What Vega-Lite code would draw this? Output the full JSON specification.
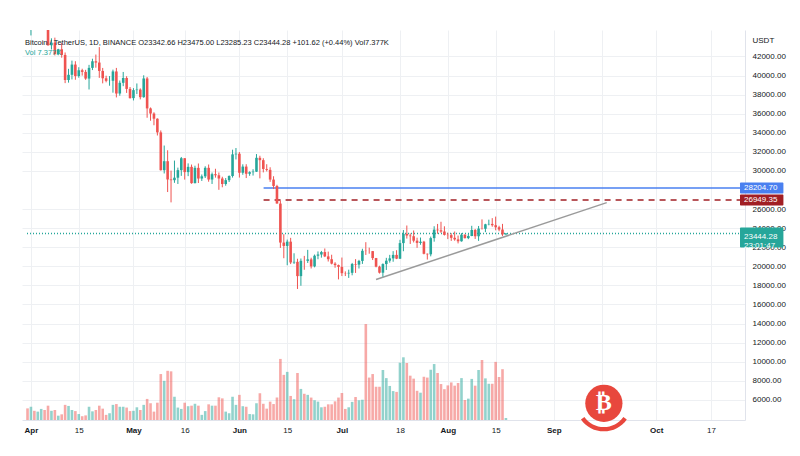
{
  "$schema": "https://vega.github.io/schema/vega-lite/v6.json",
  "width": 723,
  "height": 390,
  "autosize": {"type": "none"},
  "padding": {"left": 22, "top": 30, "right": 55, "bottom": 36},
  "background": "white",
  "title": {
    "text": "Bitcoin / TetherUS, 1D, BINANCE  O23342.66  H23475.00  L23285.23  C23444.28  +101.62 (+0.44%)  Vol7.377K",
    "subtitle": "Vol  7.377K",
    "anchor": "start", "frame": "group", "orient": "top", "offset": -27, "dx": 3,
    "fontSize": 7.5, "fontWeight": "normal", "color": "#131722",
    "subtitleFontSize": 7.5, "subtitleColor": "#26a69a", "subtitlePadding": 3,
    "font": "Liberation Sans", "subtitleFont": "Liberation Sans"
  },
  "config": {
    "font": "Liberation Sans",
    "view": {"stroke": null}
  },
  "datasets": {
    "ohlc": [
      {"d":"2022-03-31","o":47067,"h":47600,"l":45200,"c":45510,"v":43},
      {"d":"2022-04-01","o":45510,"h":46720,"l":44200,"c":46283,"v":49},
      {"d":"2022-04-02","o":46283,"h":47213,"l":45620,"c":45811,"v":34},
      {"d":"2022-04-03","o":45811,"h":47444,"l":45530,"c":46407,"v":31},
      {"d":"2022-04-04","o":46407,"h":46890,"l":45118,"c":46580,"v":41},
      {"d":"2022-04-05","o":46580,"h":47200,"l":45353,"c":45497,"v":37},
      {"d":"2022-04-06","o":45497,"h":45507,"l":43121,"c":43170,"v":53},
      {"d":"2022-04-07","o":43170,"h":43900,"l":42727,"c":43444,"v":34},
      {"d":"2022-04-08","o":43444,"h":43970,"l":42107,"c":42252,"v":37},
      {"d":"2022-04-09","o":42252,"h":42800,"l":42125,"c":42753,"v":16},
      {"d":"2022-04-10","o":42753,"h":43410,"l":41868,"c":42158,"v":21},
      {"d":"2022-04-11","o":42158,"h":42414,"l":39200,"c":39530,"v":56},
      {"d":"2022-04-12","o":39530,"h":40700,"l":39254,"c":40074,"v":52},
      {"d":"2022-04-13","o":40074,"h":41561,"l":39588,"c":41147,"v":37},
      {"d":"2022-04-14","o":41147,"h":41500,"l":39551,"c":39942,"v":33},
      {"d":"2022-04-15","o":39942,"h":40870,"l":39766,"c":40552,"v":22},
      {"d":"2022-04-16","o":40552,"h":40709,"l":39991,"c":40378,"v":14},
      {"d":"2022-04-17","o":40378,"h":40595,"l":39546,"c":39679,"v":17},
      {"d":"2022-04-18","o":39679,"h":41116,"l":38536,"c":40801,"v":49},
      {"d":"2022-04-19","o":40801,"h":41760,"l":40571,"c":41493,"v":32},
      {"d":"2022-04-20","o":41493,"h":42199,"l":40820,"c":41358,"v":37},
      {"d":"2022-04-21","o":41358,"h":42976,"l":39751,"c":40480,"v":53},
      {"d":"2022-04-22","o":40480,"h":40795,"l":39177,"c":39709,"v":42},
      {"d":"2022-04-23","o":39709,"h":39980,"l":39285,"c":39441,"v":19},
      {"d":"2022-04-24","o":39441,"h":39940,"l":38929,"c":39450,"v":25},
      {"d":"2022-04-25","o":39450,"h":40617,"l":38200,"c":40426,"v":56},
      {"d":"2022-04-26","o":40426,"h":40797,"l":37702,"c":38112,"v":59},
      {"d":"2022-04-27","o":38112,"h":39474,"l":37881,"c":39235,"v":49},
      {"d":"2022-04-28","o":39235,"h":40372,"l":38881,"c":39742,"v":49},
      {"d":"2022-04-29","o":39742,"h":39925,"l":38175,"c":38596,"v":46},
      {"d":"2022-04-30","o":38596,"h":38795,"l":37578,"c":37630,"v":33},
      {"d":"2022-05-01","o":37630,"h":38675,"l":37386,"c":38468,"v":34},
      {"d":"2022-05-02","o":38468,"h":39167,"l":38052,"c":38525,"v":47},
      {"d":"2022-05-03","o":38525,"h":38651,"l":37500,"c":37729,"v":37},
      {"d":"2022-05-04","o":37729,"h":40023,"l":37670,"c":39690,"v":56},
      {"d":"2022-05-05","o":39690,"h":39845,"l":35571,"c":36552,"v":78},
      {"d":"2022-05-06","o":36552,"h":36650,"l":35258,"c":36013,"v":62},
      {"d":"2022-05-07","o":36013,"h":36146,"l":34785,"c":35472,"v":31},
      {"d":"2022-05-08","o":35472,"h":35510,"l":33713,"c":34038,"v":64},
      {"d":"2022-05-09","o":34038,"h":34243,"l":30033,"c":30076,"v":170},
      {"d":"2022-05-10","o":30076,"h":32659,"l":29730,"c":31017,"v":145},
      {"d":"2022-05-11","o":31017,"h":32162,"l":27785,"c":29103,"v":182},
      {"d":"2022-05-12","o":29103,"h":30033,"l":26700,"c":29029,"v":180},
      {"d":"2022-05-13","o":29029,"h":31083,"l":28751,"c":29287,"v":86},
      {"d":"2022-05-14","o":29287,"h":30343,"l":28630,"c":30081,"v":46},
      {"d":"2022-05-15","o":30081,"h":31460,"l":29480,"c":31329,"v":41},
      {"d":"2022-05-16","o":31329,"h":31330,"l":29088,"c":29874,"v":64},
      {"d":"2022-05-17","o":29874,"h":30788,"l":29450,"c":30425,"v":51},
      {"d":"2022-05-18","o":30425,"h":30668,"l":28654,"c":28715,"v":53},
      {"d":"2022-05-19","o":28715,"h":30545,"l":28693,"c":30319,"v":60},
      {"d":"2022-05-20","o":30319,"h":30777,"l":28730,"c":29201,"v":53},
      {"d":"2022-05-21","o":29201,"h":29625,"l":28947,"c":29432,"v":19},
      {"d":"2022-05-22","o":29432,"h":30487,"l":29255,"c":30323,"v":33},
      {"d":"2022-05-23","o":30323,"h":30670,"l":28866,"c":29098,"v":58},
      {"d":"2022-05-24","o":29098,"h":29830,"l":28630,"c":29655,"v":53},
      {"d":"2022-05-25","o":29655,"h":30223,"l":29294,"c":29542,"v":53},
      {"d":"2022-05-26","o":29542,"h":29834,"l":28019,"c":29201,"v":84},
      {"d":"2022-05-27","o":29201,"h":29388,"l":28282,"c":28629,"v":80},
      {"d":"2022-05-28","o":28629,"h":29250,"l":28450,"c":29031,"v":31},
      {"d":"2022-05-29","o":29031,"h":29531,"l":28839,"c":29468,"v":25},
      {"d":"2022-05-30","o":29468,"h":32222,"l":29299,"c":31734,"v":86},
      {"d":"2022-05-31","o":31734,"h":32399,"l":31200,"c":31801,"v":56},
      {"d":"2022-06-01","o":31801,"h":31982,"l":29301,"c":29805,"v":93},
      {"d":"2022-06-02","o":29805,"h":30690,"l":29594,"c":30452,"v":51},
      {"d":"2022-06-03","o":30452,"h":30700,"l":29250,"c":29700,"v":49},
      {"d":"2022-06-04","o":29700,"h":29955,"l":29485,"c":29865,"v":22},
      {"d":"2022-06-05","o":29865,"h":30178,"l":29512,"c":29919,"v":21},
      {"d":"2022-06-06","o":29919,"h":31765,"l":29890,"c":31373,"v":62},
      {"d":"2022-06-07","o":31373,"h":31589,"l":29218,"c":31125,"v":99},
      {"d":"2022-06-08","o":31125,"h":31327,"l":29843,"c":30204,"v":60},
      {"d":"2022-06-09","o":30204,"h":30700,"l":29944,"c":30109,"v":42},
      {"d":"2022-06-10","o":30109,"h":30382,"l":28850,"c":29091,"v":68},
      {"d":"2022-06-11","o":29091,"h":29440,"l":28099,"c":28424,"v":59},
      {"d":"2022-06-12","o":28424,"h":28544,"l":26560,"c":26574,"v":83},
      {"d":"2022-06-13","o":26574,"h":26895,"l":21925,"c":22487,"v":226},
      {"d":"2022-06-14","o":22487,"h":23363,"l":20846,"c":22136,"v":167},
      {"d":"2022-06-15","o":22136,"h":22800,"l":20111,"c":22583,"v":178},
      {"d":"2022-06-16","o":22583,"h":22983,"l":20232,"c":20401,"v":89},
      {"d":"2022-06-17","o":20401,"h":21365,"l":20246,"c":20468,"v":77},
      {"d":"2022-06-18","o":20468,"h":20792,"l":17622,"c":18970,"v":174},
      {"d":"2022-06-19","o":18970,"h":20815,"l":17960,"c":20574,"v":115},
      {"d":"2022-06-20","o":20574,"h":21090,"l":19637,"c":20573,"v":97},
      {"d":"2022-06-21","o":20573,"h":21723,"l":20348,"c":20723,"v":93},
      {"d":"2022-06-22","o":20723,"h":20900,"l":19770,"c":19987,"v":83},
      {"d":"2022-06-23","o":19987,"h":21233,"l":19890,"c":21110,"v":73},
      {"d":"2022-06-24","o":21110,"h":21558,"l":20740,"c":21237,"v":68},
      {"d":"2022-06-25","o":21237,"h":21614,"l":20906,"c":21491,"v":47},
      {"d":"2022-06-26","o":21491,"h":21868,"l":20960,"c":21038,"v":49},
      {"d":"2022-06-27","o":21038,"h":21540,"l":20500,"c":20742,"v":58},
      {"d":"2022-06-28","o":20742,"h":21212,"l":20202,"c":20281,"v":58},
      {"d":"2022-06-29","o":20281,"h":20432,"l":19849,"c":20123,"v":69},
      {"d":"2022-06-30","o":20123,"h":20179,"l":18626,"c":19942,"v":83},
      {"d":"2022-07-01","o":19942,"h":20918,"l":18975,"c":19279,"v":100},
      {"d":"2022-07-02","o":19279,"h":19467,"l":18977,"c":19252,"v":41},
      {"d":"2022-07-03","o":19252,"h":19647,"l":18782,"c":19315,"v":47},
      {"d":"2022-07-04","o":19315,"h":20354,"l":19055,"c":20236,"v":67},
      {"d":"2022-07-05","o":20236,"h":20750,"l":19305,"c":20175,"v":85},
      {"d":"2022-07-06","o":20175,"h":20675,"l":19770,"c":20564,"v":73},
      {"d":"2022-07-07","o":20564,"h":21838,"l":20249,"c":21624,"v":75},
      {"d":"2022-07-08","o":21624,"h":22527,"l":21190,"c":21594,"v":355},
      {"d":"2022-07-09","o":21594,"h":21954,"l":21319,"c":21591,"v":157},
      {"d":"2022-07-10","o":21591,"h":21605,"l":20655,"c":20862,"v":170},
      {"d":"2022-07-11","o":20862,"h":20878,"l":19890,"c":19963,"v":123},
      {"d":"2022-07-12","o":19963,"h":20059,"l":19240,"c":19328,"v":123},
      {"d":"2022-07-13","o":19328,"h":20308,"l":18910,"c":20234,"v":185},
      {"d":"2022-07-14","o":20234,"h":20887,"l":19616,"c":20588,"v":155},
      {"d":"2022-07-15","o":20588,"h":21200,"l":20382,"c":20830,"v":126},
      {"d":"2022-07-16","o":20830,"h":21588,"l":20478,"c":21195,"v":107},
      {"d":"2022-07-17","o":21195,"h":21684,"l":20752,"c":20798,"v":104},
      {"d":"2022-07-18","o":20798,"h":22777,"l":20762,"c":22432,"v":212},
      {"d":"2022-07-19","o":22432,"h":23800,"l":21580,"c":23396,"v":232},
      {"d":"2022-07-20","o":23396,"h":24276,"l":22906,"c":23223,"v":211},
      {"d":"2022-07-21","o":23223,"h":23442,"l":22341,"c":23152,"v":164},
      {"d":"2022-07-22","o":23152,"h":23756,"l":22500,"c":22684,"v":153},
      {"d":"2022-07-23","o":22684,"h":22998,"l":21934,"c":22451,"v":108},
      {"d":"2022-07-24","o":22451,"h":23014,"l":22258,"c":22579,"v":101},
      {"d":"2022-07-25","o":22579,"h":22666,"l":21250,"c":21310,"v":160},
      {"d":"2022-07-26","o":21310,"h":21347,"l":20706,"c":21254,"v":157},
      {"d":"2022-07-27","o":21254,"h":23112,"l":21042,"c":22952,"v":186},
      {"d":"2022-07-28","o":22952,"h":24199,"l":22582,"c":23842,"v":207},
      {"d":"2022-07-29","o":23842,"h":24442,"l":23414,"c":23773,"v":174},
      {"d":"2022-07-30","o":23773,"h":24668,"l":23502,"c":23643,"v":133},
      {"d":"2022-07-31","o":23643,"h":24194,"l":23227,"c":23293,"v":114},
      {"d":"2022-08-01","o":23296,"h":23509,"l":22850,"c":23268,"v":128},
      {"d":"2022-08-02","o":23268,"h":23466,"l":22664,"c":22988,"v":139},
      {"d":"2022-08-03","o":22988,"h":23647,"l":22681,"c":22818,"v":127},
      {"d":"2022-08-04","o":22818,"h":23223,"l":22400,"c":22622,"v":137},
      {"d":"2022-08-05","o":22622,"h":23472,"l":22586,"c":23312,"v":155},
      {"d":"2022-08-06","o":23312,"h":23354,"l":22909,"c":22954,"v":74},
      {"d":"2022-08-07","o":22954,"h":23400,"l":22844,"c":23175,"v":79},
      {"d":"2022-08-08","o":23175,"h":24245,"l":23154,"c":23810,"v":152},
      {"d":"2022-08-09","o":23810,"h":23920,"l":22865,"c":23149,"v":127},
      {"d":"2022-08-10","o":23149,"h":24226,"l":22664,"c":23954,"v":185},
      {"d":"2022-08-11","o":23954,"h":24918,"l":23852,"c":23935,"v":222},
      {"d":"2022-08-12","o":23935,"h":24456,"l":23580,"c":24403,"v":154},
      {"d":"2022-08-13","o":24403,"h":24888,"l":24296,"c":24442,"v":134},
      {"d":"2022-08-14","o":24442,"h":25047,"l":24144,"c":24305,"v":134},
      {"d":"2022-08-15","o":24305,"h":25211,"l":23773,"c":24094,"v":215},
      {"d":"2022-08-16","o":24094,"h":24247,"l":23671,"c":23854,"v":159},
      {"d":"2022-08-17","o":23854,"h":24446,"l":23180,"c":23342,"v":188},
      {"d":"2022-08-18","o":23342.66,"h":23475,"l":23285.23,"c":23444.28,"v":7.377}
    ],
    "levels": [
      {"name":"alert","price":28204.70,"start":"2022-06-08T02:00:00Z"},
      {"name":"target","price":26949.35,"start":"2022-06-08T02:00:00Z"},
      {"name":"last","price":23444.28,"start":"2022-03-30T20:18:00Z"}
    ],
    "trend": [
      {"start":"2022-07-11T00:00:00Z","p1":18610,"end":"2022-09-16T12:00:00Z","p2":26678}
    ],
    "tags": [
      {"name":"alert","price":28204.70,"label":"28204.70"},
      {"name":"target","price":26949.35,"label":"26949.35"},
      {"name":"last","price":23444.28,"label":"23444.28\n23:01:47"}
    ],
    "logo": [{"mark": "bitcoin"}]
  },
  "layer": [
    {
      "data": {"name": "ohlc"},
      "mark": {"type": "bar", "size": 2.6, "opacity": 0.5},
      "encoding": {
        "x": {
          "field": "d", "type": "temporal",
          "scale": {"type": "utc", "domain": [{"year":2022,"month":3,"date":30,"hours":20,"minutes":18,"utc":true},{"year":2022,"month":10,"date":25,"hours":12,"minutes":6,"utc":true}]},
          "axis": {
            "title": null,
            "values": [
              {"year":2022,"month":4,"date":1,"utc":true},{"year":2022,"month":4,"date":15,"utc":true},
              {"year":2022,"month":5,"date":1,"utc":true},{"year":2022,"month":5,"date":16,"utc":true},
              {"year":2022,"month":6,"date":1,"utc":true},{"year":2022,"month":6,"date":15,"utc":true},
              {"year":2022,"month":7,"date":1,"utc":true},{"year":2022,"month":7,"date":18,"utc":true},
              {"year":2022,"month":8,"date":1,"utc":true},{"year":2022,"month":8,"date":15,"utc":true},
              {"year":2022,"month":9,"date":1,"utc":true},{"year":2022,"month":9,"date":15,"utc":true},
              {"year":2022,"month":10,"date":1,"utc":true},{"year":2022,"month":10,"date":17,"utc":true}
            ],
            "tickCount": 40,
            "labelExpr": "utcdate(datum.value) == 1 ? utcFormat(datum.value, '%b') : (utcmonth(datum.value) == 8 ? '' : utcFormat(datum.value, '%-d'))",
            "labelFontWeight": {"condition": {"test": "utcdate(datum.value) == 1", "value": "bold"}, "value": "normal"},
            "labelFontSize": 8, "labelColor": "#131722", "labelPadding": 6, "labelFlush": false, "labelOverlap": false,
            "ticks": false, "grid": true, "gridColor": "#eef0f3",
            "domain": true, "domainColor": "#e0e3eb", "zindex": 0
          }
        },
        "y": {"field": "v", "type": "quantitative", "scale": {"domain": [0, 1443], "nice": false, "zero": true}, "axis": null},
        "color": {"condition": {"test": "datum.c >= datum.o", "value": "#26a69a"}, "value": "#ef5350"}
      }
    },
    {
      "layer": [
        {
          "data": {"name": "levels"},
          "mark": {"type": "rule"},
          "encoding": {
            "x": {"field": "start", "type": "temporal", "scale": {"type": "utc", "domain": [{"year":2022,"month":3,"date":30,"hours":20,"minutes":18,"utc":true},{"year":2022,"month":10,"date":25,"hours":12,"minutes":6,"utc":true}]}},
            "x2": {"datum": {"year":2022,"month":10,"date":25,"hours":12,"minutes":6,"utc":true}},
            "y": {
              "field": "price", "type": "quantitative",
              "scale": {"domain": [4411, 44247], "nice": false, "zero": false, "clamp": true},
              "axis": {
                "orient": "right", "title": "USDT", "titleAngle": 0, "titleAlign": "left", "titleBaseline": "middle",
                "titleX": 7, "titleY": 10, "titleFontSize": 8, "titleFontWeight": "normal", "titleColor": "#131722",
                "values": [6000,8000,10000,12000,14000,16000,18000,20000,22000,24000,26000,30000,32000,34000,36000,38000,40000,42000],
                "tickCount": 40,
                "format": ".2f", "labelFontSize": 8, "labelColor": "#131722", "labelPadding": 7, "labelOverlap": false,
                "ticks": false, "grid": true, "gridColor": "#eef0f3",
                "domain": true, "domainColor": "#e0e3eb", "zindex": 0
              }
            },
            "color": {"field": "name", "type": "nominal", "scale": {"domain": ["alert","target","last"], "range": ["#4a80f0","#a11f24","#26a69a"]}, "legend": null},
            "strokeDash": {"field": "name", "type": "nominal", "scale": {"domain": ["alert","target","last"], "range": [[1,0],[6,5],[1,2]]}, "legend": null},
            "strokeWidth": {"field": "name", "type": "nominal", "scale": {"domain": ["alert","target","last"], "range": [1.5,1.5,1]}, "legend": null}
          }
        },
        {
          "data": {"name": "trend"},
          "mark": {"type": "rule", "color": "#9b9b9b", "strokeWidth": 1.5},
          "encoding": {
            "x": {"field": "start", "type": "temporal", "scale": {"type": "utc", "domain": [{"year":2022,"month":3,"date":30,"hours":20,"minutes":18,"utc":true},{"year":2022,"month":10,"date":25,"hours":12,"minutes":6,"utc":true}]}},
            "x2": {"field": "end"},
            "y": {"field": "p1", "type": "quantitative", "scale": {"domain": [4411, 44247], "nice": false, "zero": false, "clamp": true}},
            "y2": {"field": "p2"}
          }
        },
        {
          "data": {"name": "ohlc"},
          "mark": {"type": "rule", "strokeWidth": 1},
          "encoding": {
            "x": {"field": "d", "type": "temporal", "scale": {"type": "utc", "domain": [{"year":2022,"month":3,"date":30,"hours":20,"minutes":18,"utc":true},{"year":2022,"month":10,"date":25,"hours":12,"minutes":6,"utc":true}]}},
            "y": {"field": "l", "type": "quantitative", "scale": {"domain": [4411, 44247], "nice": false, "zero": false, "clamp": true}},
            "y2": {"field": "h"},
            "color": {"condition": {"test": "datum.c >= datum.o", "value": "#26a69a"}, "value": "#ef5350"},
            "opacity": {"condition": {"test": "datum.l > 44247", "value": 0}, "value": 1}
          }
        },
        {
          "data": {"name": "ohlc"},
          "mark": {"type": "bar", "size": 2.6, "minBandSize": 1},
          "encoding": {
            "x": {"field": "d", "type": "temporal", "scale": {"type": "utc", "domain": [{"year":2022,"month":3,"date":30,"hours":20,"minutes":18,"utc":true},{"year":2022,"month":10,"date":25,"hours":12,"minutes":6,"utc":true}]}},
            "y": {"field": "o", "type": "quantitative", "scale": {"domain": [4411, 44247], "nice": false, "zero": false, "clamp": true}},
            "y2": {"field": "c"},
            "color": {"condition": {"test": "datum.c >= datum.o", "value": "#26a69a"}, "value": "#ef5350"},
            "opacity": {"condition": {"test": "datum.l > 44247 || (datum.o > 44247 && datum.c > 44247)", "value": 0}, "value": 1}
          }
        },
        {
          "data": {"name": "tags"},
          "transform": [{"filter": "datum.name != 'last'"}],
          "mark": {"type": "bar", "orient": "horizontal", "size": 11, "cornerRadius": 1},
          "encoding": {
            "x": {"datum": {"year":2022,"month":10,"date":25,"hours":12,"minutes":6,"utc":true}, "type": "temporal", "scale": {"type": "utc", "domain": [{"year":2022,"month":3,"date":30,"hours":20,"minutes":18,"utc":true},{"year":2022,"month":10,"date":25,"hours":12,"minutes":6,"utc":true}]}},
            "x2": {"datum": {"year":2022,"month":11,"date":7,"hours":5,"utc":true}},
            "y": {"field": "price", "type": "quantitative", "scale": {"domain": [4411, 44247], "nice": false, "zero": false, "clamp": true}},
            "color": {"field": "name", "type": "nominal", "scale": {"domain": ["alert","target","last"], "range": ["#4a80f0","#a11f24","#26a69a"]}, "legend": null}
          }
        },
        {
          "data": {"name": "tags"},
          "transform": [{"filter": "datum.name == 'last'"}],
          "mark": {"type": "bar", "orient": "horizontal", "size": 20, "cornerRadius": 1, "yOffset": 4},
          "encoding": {
            "x": {"datum": {"year":2022,"month":10,"date":25,"hours":12,"minutes":6,"utc":true}, "type": "temporal", "scale": {"type": "utc", "domain": [{"year":2022,"month":3,"date":30,"hours":20,"minutes":18,"utc":true},{"year":2022,"month":10,"date":25,"hours":12,"minutes":6,"utc":true}]}},
            "x2": {"datum": {"year":2022,"month":11,"date":7,"hours":5,"utc":true}},
            "y": {"field": "price", "type": "quantitative", "scale": {"domain": [4411, 44247], "nice": false, "zero": false, "clamp": true}},
            "color": {"field": "name", "type": "nominal", "scale": {"domain": ["alert","target","last"], "range": ["#4a80f0","#a11f24","#26a69a"]}, "legend": null}
          }
        },
        {
          "data": {"name": "tags"},
          "transform": [{"filter": "datum.name != 'last'"}],
          "mark": {"type": "text", "align": "left", "baseline": "middle", "dx": 4, "fontSize": 8, "color": "white"},
          "encoding": {
            "x": {"datum": {"year":2022,"month":10,"date":25,"hours":12,"minutes":6,"utc":true}, "type": "temporal", "scale": {"type": "utc", "domain": [{"year":2022,"month":3,"date":30,"hours":20,"minutes":18,"utc":true},{"year":2022,"month":10,"date":25,"hours":12,"minutes":6,"utc":true}]}},
            "y": {"field": "price", "type": "quantitative", "scale": {"domain": [4411, 44247], "nice": false, "zero": false, "clamp": true}},
            "text": {"field": "label"}
          }
        },
        {
          "data": {"name": "tags"},
          "transform": [{"filter": "datum.name == 'last'"}],
          "mark": {"type": "text", "align": "left", "baseline": "middle", "dx": 4, "dy": 4, "fontSize": 8, "color": "white", "lineBreak": "\n", "lineHeight": 9},
          "encoding": {
            "x": {"datum": {"year":2022,"month":10,"date":25,"hours":12,"minutes":6,"utc":true}, "type": "temporal", "scale": {"type": "utc", "domain": [{"year":2022,"month":3,"date":30,"hours":20,"minutes":18,"utc":true},{"year":2022,"month":10,"date":25,"hours":12,"minutes":6,"utc":true}]}},
            "y": {"field": "price", "type": "quantitative", "scale": {"domain": [4411, 44247], "nice": false, "zero": false, "clamp": true}},
            "text": {"field": "label"}
          }
        },
        {
          "data": {"name": "logo"},
          "mark": {"type": "point", "filled": true, "shape": "M -0.819 0.574 A 1 1 0 0 0 0.819 0.574 L 0.696 0.488 A 0.85 0.85 0 0 1 -0.696 0.488 Z", "size": 3136, "color": "#e8473d", "opacity": 1},
          "encoding": {
            "x": {"datum": {"year":2022,"month":9,"date":15,"hours":16,"utc":true}, "type": "temporal", "scale": {"type": "utc", "domain": [{"year":2022,"month":3,"date":30,"hours":20,"minutes":18,"utc":true},{"year":2022,"month":10,"date":25,"hours":12,"minutes":6,"utc":true}]}},
            "y": {"datum": 5636, "type": "quantitative", "scale": {"domain": [4411, 44247], "nice": false, "zero": false, "clamp": true}}
          }
        },
        {
          "data": {"name": "logo"},
          "mark": {"type": "point", "filled": true, "shape": "circle", "size": 1385, "color": "#e8473d", "opacity": 1},
          "encoding": {
            "x": {"datum": {"year":2022,"month":9,"date":15,"hours":16,"utc":true}, "type": "temporal", "scale": {"type": "utc", "domain": [{"year":2022,"month":3,"date":30,"hours":20,"minutes":18,"utc":true},{"year":2022,"month":10,"date":25,"hours":12,"minutes":6,"utc":true}]}},
            "y": {"datum": 5636, "type": "quantitative", "scale": {"domain": [4411, 44247], "nice": false, "zero": false, "clamp": true}}
          }
        },
        {
          "data": {"name": "logo"},
          "mark": {"type": "text", "text": "₿", "fontSize": 24, "fontWeight": "bold", "color": "white", "align": "center", "baseline": "middle", "font": "DejaVu Sans"},
          "encoding": {
            "x": {"datum": {"year":2022,"month":9,"date":15,"hours":16,"utc":true}, "type": "temporal", "scale": {"type": "utc", "domain": [{"year":2022,"month":3,"date":30,"hours":20,"minutes":18,"utc":true},{"year":2022,"month":10,"date":25,"hours":12,"minutes":6,"utc":true}]}},
            "y": {"datum": 5636, "type": "quantitative", "scale": {"domain": [4411, 44247], "nice": false, "zero": false, "clamp": true}}
          }
        }
      ]
    }
  ],
  "resolve": {"scale": {"y": "independent"}}
}
